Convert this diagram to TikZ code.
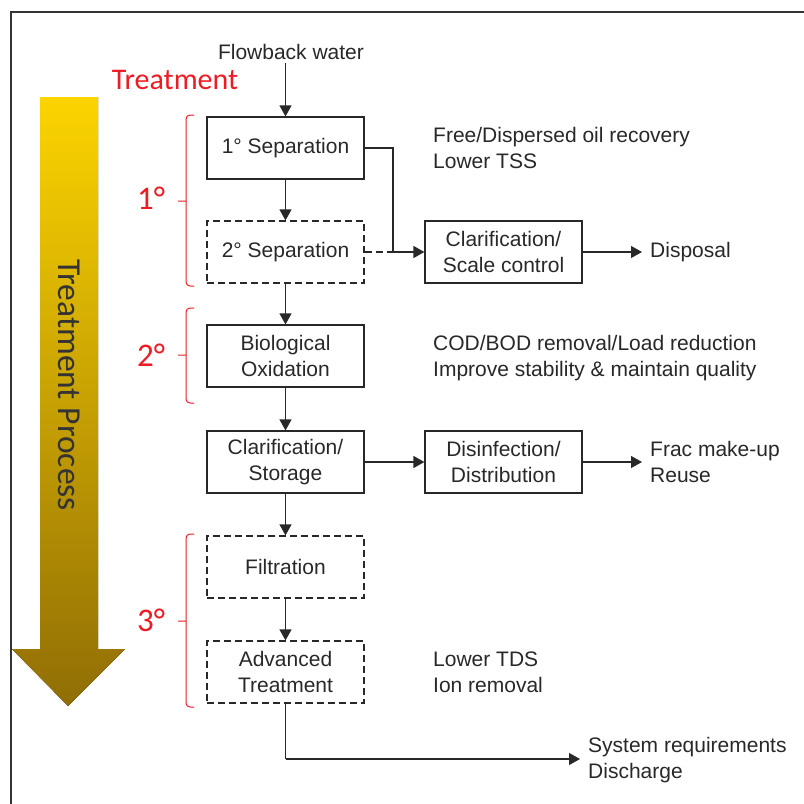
\documentclass[tikz,border=0pt]{standalone}
\usepackage{fontspec}
\setmainfont{Liberation Sans}
\newfontfamily\calfont{Carlito}
\usetikzlibrary{arrows.meta}
\definecolor{treatred}{RGB}{237,28,36}
\definecolor{goldtop}{RGB}{252,212,0}
\definecolor{goldbot}{RGB}{145,110,5}
\definecolor{inkgray}{RGB}{40,40,40}
\tikzset{
  box/.style={draw=inkgray, line width=1.2pt, minimum width=157pt, minimum height=62pt,
    inner sep=0pt, align=center, font=\fontsize{21}{26}\selectfont, text=inkgray},
  dbox/.style={box, dash pattern=on 7pt off 4pt},
  note/.style={align=left, anchor=west, inner sep=0pt, font=\fontsize{21}{26}\selectfont, text=inkgray},
  flow/.style={draw=inkgray, line width=1.2pt, -{Triangle[length=11pt,width=12pt]}},
  toout/.style={flow, shorten >=8pt},
  rbrace/.style={draw=treatred, line width=1pt, rounded corners=4pt},
  stage/.style={text=treatred, font=\calfont\fontsize{33}{33}\selectfont}
}
\begin{document}
\begin{tikzpicture}[x=1pt,y=-1pt]
   \useasboundingbox (0,0) rectangle (804,804);
   \draw[line width=1.5pt, black!80] (11,830) -- (11,12) -- (830,12);

   % big arrow on the left
   \fill[top color=goldtop, bottom color=goldbot] (40,97) -- (98,97) -- (98,649) --
   (125,649) -- (68,706) -- (12,649) -- (40,649) -- cycle;
   \node[rotate=-90, text=black!80, font=\calfont\fontsize{33.5}{33.5}\selectfont] (proc) at (69,385) {Treatment Process};
   \node[text=treatred, font=\calfont\fontsize{30}{30}\selectfont] (treat) at (175,80) {Treatment};

   % process boxes
   \node[text=inkgray, font=\fontsize{21}{26}\selectfont] (flowback) at (291,52) {Flowback water};
   \node[box] (sep1) at (285.5,148) {1° Separation};
   \node[dbox] (sep2) at (285.5,252) {2° Separation};
   \node[box] (bio) at (285.5,356) {Biological\\Oxidation};
   \node[box] (clarst) at (285.5,462) {Clarification/\\Storage};
   \node[dbox] (filt) at (285.5,567) {Filtration};
   \node[dbox] (adv) at (285.5,672) {Advanced\\Treatment};
   \node[box] (clarsc) at (503.5,252) {Clarification/\\Scale control};
   \node[box] (disinf) at (503.5,462) {Disinfection/\\Distribution};

   % notes
   \node[note] (note1) at (433,148) {Free/Dispersed oil recovery\\Lower TSS};
   \node[note] (note2) at (433,358) {COD/BOD removal/Load reduction\\Improve stability \& maintain quality};
   \node[note] (note3) at (433,672) {Lower TDS\\Ion removal};
   \node[note] (disp) at (650,252) {Disposal};
   \node[note] (reuse) at (650,462) {Frac make-up\\Reuse};
   \node[note] (disch) at (588,760) {System requirements\\Discharge};

   % connectors
   \coordinate (jn) at (393,252);
   \coordinate (low) at (285.5,759);
   \draw[flow] (flowback.south -| sep1.north) -- (sep1.north);
   \draw[flow] (sep1) -- (sep2);
   \draw[flow] (sep2) -- (bio);
   \draw[flow] (bio) -- (clarst);
   \draw[flow] (clarst) -- (filt);
   \draw[flow] (filt) -- (adv);
   \draw[line width=1.2pt, inkgray] (sep1.east) -| (jn);
   \draw[line width=1.2pt, inkgray, dash pattern=on 7pt off 4pt] (sep2.east) -- (jn);
   \draw[flow] (jn) -- (clarsc.west);
   \draw[toout] (clarsc) -- (disp.west);
   \draw[flow] (clarst) -- (disinf);
   \draw[toout] (disinf) -- (reuse.west);
   \draw[line width=1.2pt, inkgray] (adv.south) -- (low);
   \draw[toout] (low) -- (low -| disch.west);

   % stage brackets
   \draw[rbrace] (194,115) -- (186,115) -- (186,286) -- (194,286) (186,201) -- (178,201);
   \draw[rbrace] (194,308) -- (186,308) -- (186,403) -- (194,403) (186,355) -- (178,355);
   \draw[rbrace] (194,534) -- (186,534) -- (186,707) -- (194,707) (186,621) -- (178,621);
   \node[stage] (st1) at (151,198) {1°};
   \node[stage] (st2) at (151,355) {2°};
   \node[stage] (st3) at (151,620) {3°};

\end{tikzpicture}
\end{document}
